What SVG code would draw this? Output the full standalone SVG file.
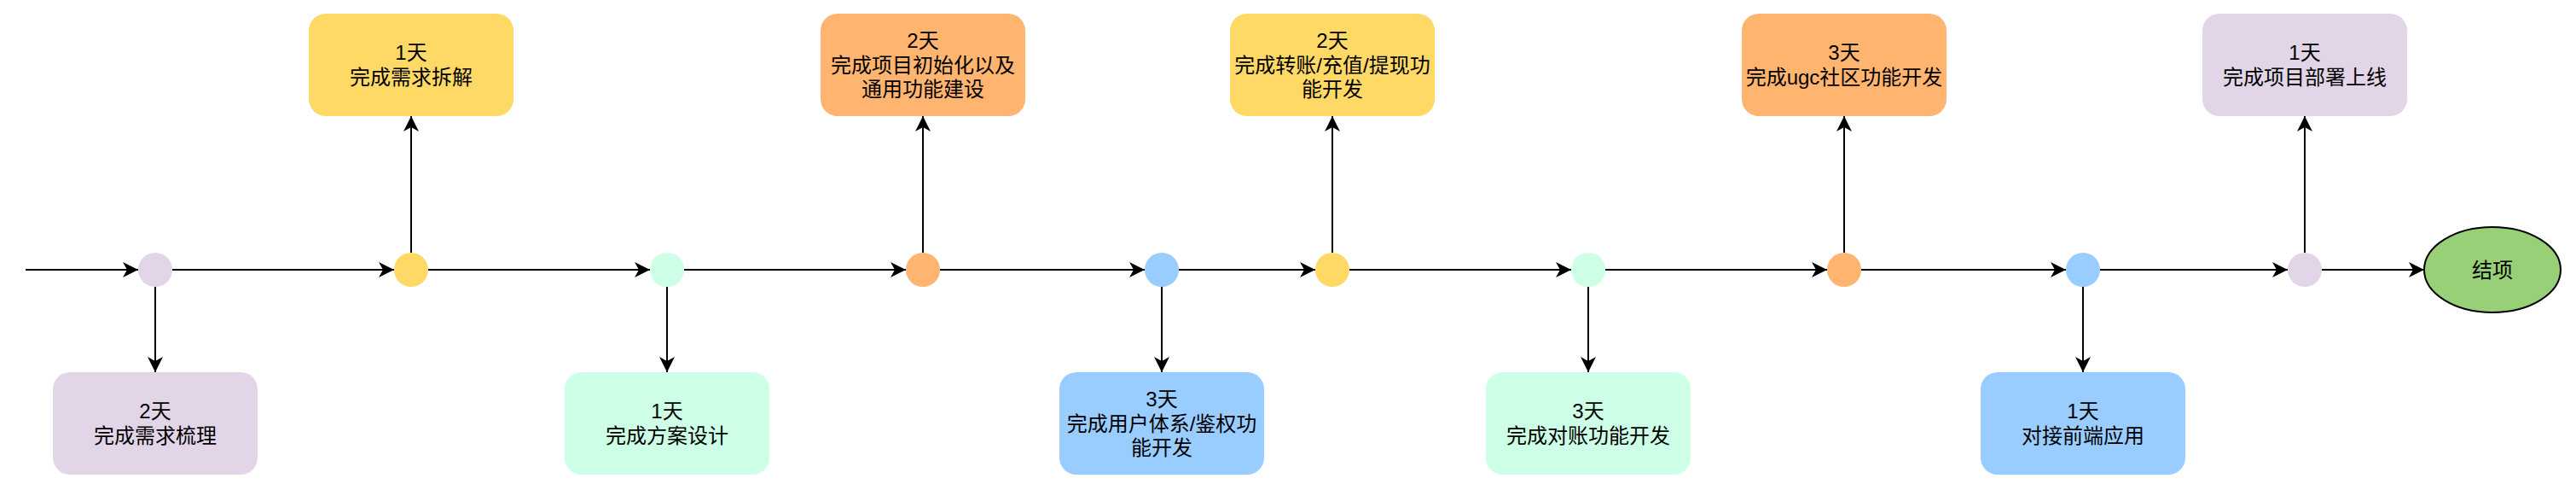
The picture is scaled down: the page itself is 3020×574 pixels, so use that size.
<svg xmlns="http://www.w3.org/2000/svg" width="3020" height="574" viewBox="0 0 3020 574">
<defs>
<style>
text{font-family:"Liberation Sans","Noto Sans CJK SC",sans-serif;font-size:24px;fill:#000;text-anchor:middle;dominant-baseline:central}
.box{stroke:none}
.lilac{fill:#E1D5E7}.yellow{fill:#FFD966}.mint{fill:#CCFFE6}.orange{fill:#FFB570}.blue{fill:#99CCFF}
.edge{fill:none;stroke:#000;stroke-width:2}
</style>
<marker id="arr" viewBox="0 0 20 20" refX="18" refY="10" markerWidth="20" markerHeight="20" markerUnits="userSpaceOnUse" orient="auto" overflow="visible">
<path d="M0,1 L18,10 L0,19 L5,10 Z" fill="#000"/>
</marker>
</defs>
<rect width="3020" height="574" fill="#fff"/>
<g id="connectors">
<line class="edge" x1="30" y1="316" x2="162" y2="316" marker-end="url(#arr)"/>
<line class="edge" x1="202" y1="316" x2="462" y2="316" marker-end="url(#arr)"/>
<line class="edge" x1="502" y1="316" x2="762" y2="316" marker-end="url(#arr)"/>
<line class="edge" x1="802" y1="316" x2="1062" y2="316" marker-end="url(#arr)"/>
<line class="edge" x1="1102" y1="316" x2="1342" y2="316" marker-end="url(#arr)"/>
<line class="edge" x1="1382" y1="316" x2="1542" y2="316" marker-end="url(#arr)"/>
<line class="edge" x1="1582" y1="316" x2="1842" y2="316" marker-end="url(#arr)"/>
<line class="edge" x1="1882" y1="316" x2="2142" y2="316" marker-end="url(#arr)"/>
<line class="edge" x1="2182" y1="316" x2="2422" y2="316" marker-end="url(#arr)"/>
<line class="edge" x1="2462" y1="316" x2="2682" y2="316" marker-end="url(#arr)"/>
<line class="edge" x1="2722" y1="316" x2="2842" y2="316" marker-end="url(#arr)"/>
<line class="edge" x1="182" y1="336" x2="182" y2="436" marker-end="url(#arr)"/>
<line class="edge" x1="482" y1="296" x2="482" y2="136" marker-end="url(#arr)"/>
<line class="edge" x1="782" y1="336" x2="782" y2="436" marker-end="url(#arr)"/>
<line class="edge" x1="1082" y1="296" x2="1082" y2="136" marker-end="url(#arr)"/>
<line class="edge" x1="1362" y1="336" x2="1362" y2="436" marker-end="url(#arr)"/>
<line class="edge" x1="1562" y1="296" x2="1562" y2="136" marker-end="url(#arr)"/>
<line class="edge" x1="1862" y1="336" x2="1862" y2="436" marker-end="url(#arr)"/>
<line class="edge" x1="2162" y1="296" x2="2162" y2="136" marker-end="url(#arr)"/>
<line class="edge" x1="2442" y1="336" x2="2442" y2="436" marker-end="url(#arr)"/>
<line class="edge" x1="2702" y1="296" x2="2702" y2="136" marker-end="url(#arr)"/>
</g>
<g id="c1"><circle class="lilac" cx="182" cy="316" r="20"/></g>
<g id="c2"><circle class="yellow" cx="482" cy="316" r="20"/></g>
<g id="c3"><circle class="mint" cx="782" cy="316" r="20"/></g>
<g id="c4"><circle class="orange" cx="1082" cy="316" r="20"/></g>
<g id="c5"><circle class="blue" cx="1362" cy="316" r="20"/></g>
<g id="c6"><circle class="yellow" cx="1562" cy="316" r="20"/></g>
<g id="c7"><circle class="mint" cx="1862" cy="316" r="20"/></g>
<g id="c8"><circle class="orange" cx="2162" cy="316" r="20"/></g>
<g id="c9"><circle class="blue" cx="2442" cy="316" r="20"/></g>
<g id="c10"><circle class="lilac" cx="2702" cy="316" r="20"/></g>
<g id="end"><ellipse cx="2922" cy="316" rx="80" ry="50" fill="#97D077" stroke="#000" stroke-width="2"/><text x="2922" y="316">结项</text></g>
<g id="b1"><rect class="box lilac" x="62" y="436" width="240" height="120" rx="20"/><text x="182" y="481.6">2天</text><text x="182" y="510.4">完成需求梳理</text></g>
<g id="t1"><rect class="box yellow" x="362" y="16" width="240" height="120" rx="20"/><text x="482" y="61.6">1天</text><text x="482" y="90.4">完成需求拆解</text></g>
<g id="b2"><rect class="box mint" x="662" y="436" width="240" height="120" rx="20"/><text x="782" y="481.6">1天</text><text x="782" y="510.4">完成方案设计</text></g>
<g id="t2"><rect class="box orange" x="962" y="16" width="240" height="120" rx="20"/><text x="1082" y="47.2">2天</text><text x="1082" y="76">完成项目初始化以及</text><text x="1082" y="104.8">通用功能建设</text></g>
<g id="b3"><rect class="box blue" x="1242" y="436" width="240" height="120" rx="20"/><text x="1362" y="467.2">3天</text><text x="1362" y="496">完成用户体系/鉴权功</text><text x="1362" y="524.8">能开发</text></g>
<g id="t3"><rect class="box yellow" x="1442" y="16" width="240" height="120" rx="20"/><text x="1562" y="47.2">2天</text><text x="1562" y="76">完成转账/充值/提现功</text><text x="1562" y="104.8">能开发</text></g>
<g id="b4"><rect class="box mint" x="1742" y="436" width="240" height="120" rx="20"/><text x="1862" y="481.6">3天</text><text x="1862" y="510.4">完成对账功能开发</text></g>
<g id="t4"><rect class="box orange" x="2042" y="16" width="240" height="120" rx="20"/><text x="2162" y="61.6">3天</text><text x="2162" y="90.4">完成ugc社区功能开发</text></g>
<g id="b5"><rect class="box blue" x="2322" y="436" width="240" height="120" rx="20"/><text x="2442" y="481.6">1天</text><text x="2442" y="510.4">对接前端应用</text></g>
<g id="t5"><rect class="box lilac" x="2582" y="16" width="240" height="120" rx="20"/><text x="2702" y="61.6">1天</text><text x="2702" y="90.4">完成项目部署上线</text></g>
</svg>
